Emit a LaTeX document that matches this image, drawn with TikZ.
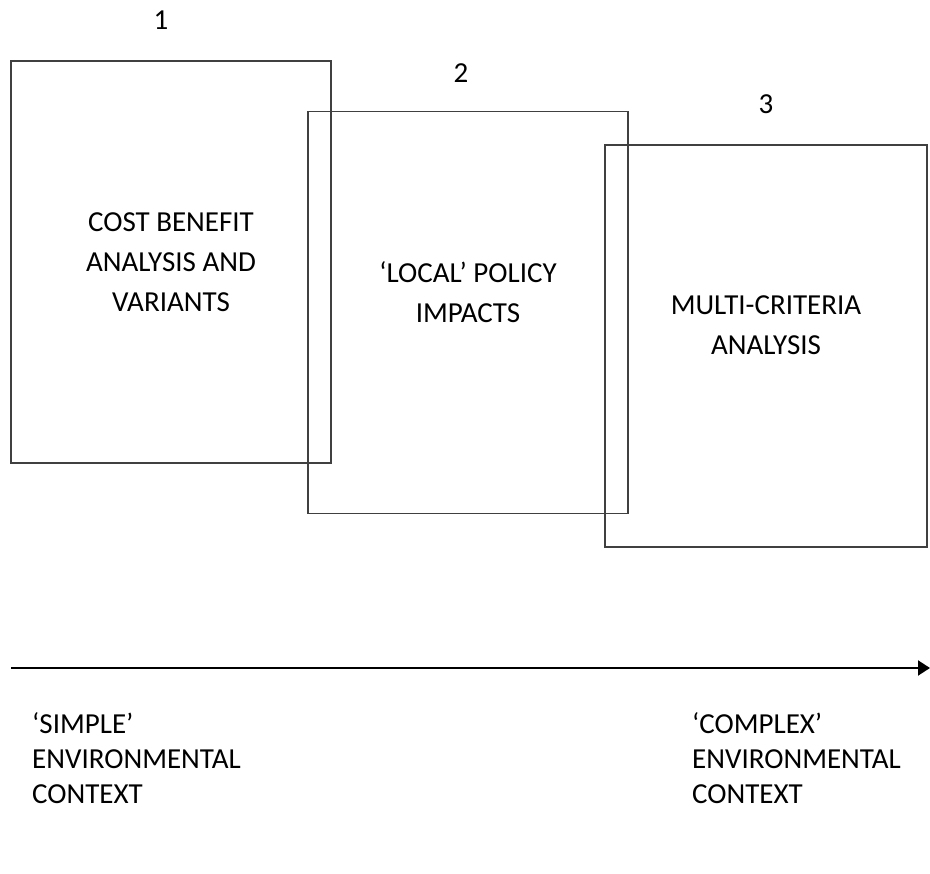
\documentclass[tikz,border=0pt]{standalone}
\usepackage{fontspec}
\setmainfont{Carlito}
\usepackage{tikz}
\usetikzlibrary{arrows.meta}

\tikzset{
	stage/.style={draw=black!75, line width=1.4pt, minimum width=320pt, minimum height=402pt, inner sep=0pt},
	boxtext/.style={align=center, inner sep=0pt, font=\fontsize{29}{40}\selectfont},
	sidetext/.style={align=left, inner sep=0pt, anchor=base west, font=\fontsize{29}{35}\selectfont},
	number/.style={inner sep=0pt, font=\fontsize{29}{34}\selectfont}
}

\begin{document}
\begin{tikzpicture}[x=1pt,y=-1pt]
	
	\useasboundingbox (0,0) rectangle (930,874);
	
	\node[stage] (box1) at (171,262) {};
	\node[stage] (box2) at (468,312.5) {};
	\node[stage, minimum width=322pt] (box3) at (766,346) {};
	
	\node[number] (n1) at (161,20) {1};
	\node[number] (n2) at (461,73) {2};
	\node[number] (n3) at (766,104) {3};
	
	\node[boxtext] (cba) at (171,262) {COST BENEFIT\\ANALYSIS AND\\VARIANTS};
	\node[boxtext] (local) at (468,292) {‘LOCAL’ POLICY\\IMPACTS};
	\node[boxtext] (mca) at (766,325) {MULTI-CRITERIA\\ANALYSIS};
	
	\coordinate (low) at (11,668);
	\coordinate (high) at (930,668);
	\draw[line width=2pt, -{Triangle[length=12pt,width=15pt]}] (low) -- (high);
	
	\node[sidetext] (simple) at (32,803) {‘SIMPLE’\\ENVIRONMENTAL\\CONTEXT};
	\node[sidetext] (complex) at (692,803) {‘COMPLEX’\\ENVIRONMENTAL\\CONTEXT};
	
\end{tikzpicture}
\end{document}
